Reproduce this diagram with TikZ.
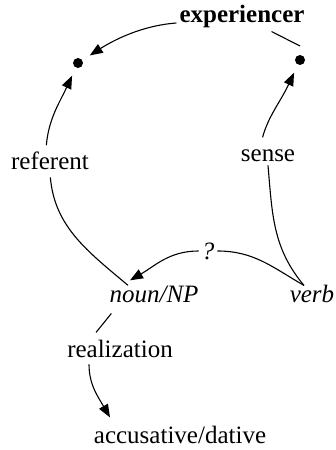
\documentclass[tikz,border=0pt]{standalone}
\usepackage{fontspec}
\setmainfont{Liberation Serif}
\usetikzlibrary{arrows.meta,calc}
\begin{document}
\begin{tikzpicture}[x=1pt,y=1pt,
  lbl/.style={font=\fontsize{25}{30}\selectfont, inner sep=3pt, anchor=base},
  bflbl/.style={lbl, font=\fontsize{25}{30}\selectfont\bfseries},
  itlbl/.style={lbl, font=\fontsize{25}{30}\selectfont\itshape},
  dotnode/.style={circle, fill=black, inner sep=0pt, minimum size=10pt, outer sep=9pt},
  conn/.style={line width=1.1pt},
  arr/.style={conn, -{Triangle[length=13pt,width=10pt]}}]
\useasboundingbox (0,0) rectangle (335,450);
% nodes
\node[bflbl] (exp) at (242,427) {experiencer};
\node[dotnode] (ldot) at (78,387) {};
\node[dotnode] (rdot) at (300,390) {};
\node[lbl] (ref) at (50,280) {referent};
\node[lbl] (sense) at (268,288) {sense};
\node[itlbl] (noun) at (154,147) {noun/NP};
\node[itlbl] (verb) at (312,147) {verb};
\node[itlbl, anchor=center] (q) at (208,199) {?};
\node[lbl] (real) at (120,92) {realization};
\node[lbl] (acc) at (180,6) {accusative/dative};
% helper coordinates
\coordinate (expse) at ($(exp.south)!0.45!(exp.south east)$);
\coordinate (ntop) at ([xshift=-26pt,yshift=-2pt]noun.north);
\coordinate (ntip) at ([xshift=-24pt,yshift=3pt]noun.north);
\coordinate (vtop) at ([xshift=-8pt,yshift=-3pt]verb.north);
\coordinate (nsw) at ([shift={(5pt,-7pt)}]noun.south west);
\coordinate (rtop) at ([shift={(-24pt,5pt)}]real.north);
\coordinate (atop) at ([xshift=-70pt,yshift=6pt]acc.north);
% connectors
\draw[conn] (rdot.north) -- (expse);
\draw[arr] (exp.base west) .. controls +(-40,-3) and +(28,18) .. (ldot);
\draw[arr, shorten <=4pt] ([xshift=-4pt]ref.north) to[out=85,in=245] (ldot);
\draw[conn, shorten <=4pt] (ref.south) to[out=-85,in=140] (ntop);
\draw[arr, shorten <=10pt] ([xshift=-8pt]sense.north) to[out=75,in=245] (rdot);
\draw[conn] (sense.south) to[out=-85,in=130] (vtop);
\draw[conn] (vtop) to[out=150,in=0] (q.east);
\draw[arr] (q.west) to[out=180,in=30] (ntip);
\draw[conn] (nsw) -- (rtop);
\draw[arr, shorten <=3pt] ([xshift=-31pt]real.south) to[out=-90,in=120] (atop);
\end{tikzpicture}
\end{document}
